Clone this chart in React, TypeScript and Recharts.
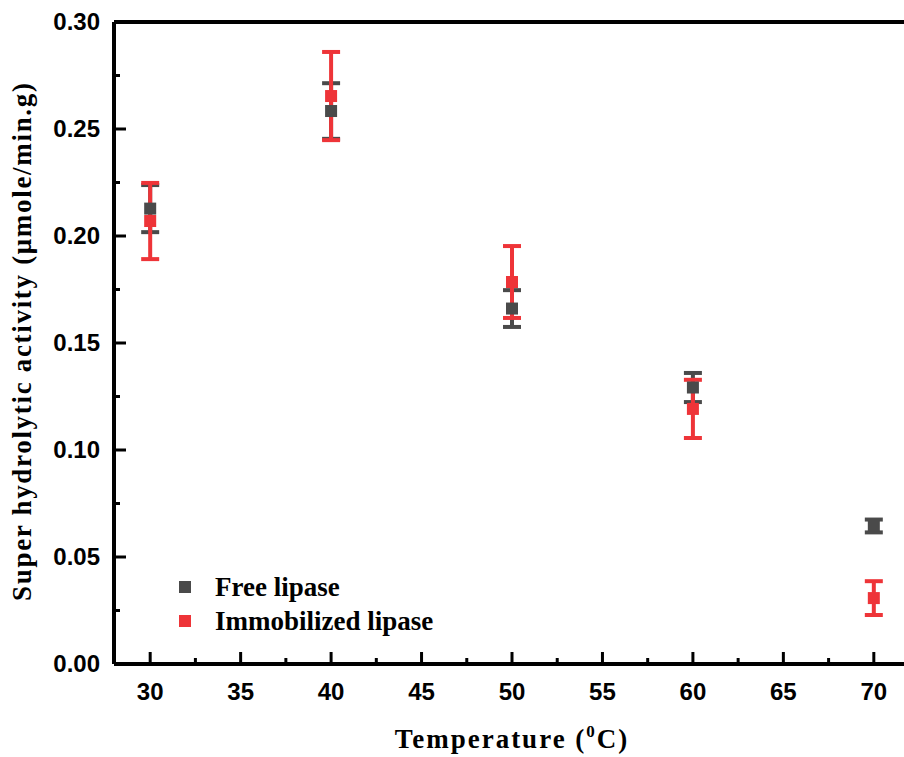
import { ScatterChart, Scatter, XAxis, YAxis, ErrorBar, ReferenceLine, Legend } from 'recharts';

// temperature (°C) of each assay
const temps = [30, 40, 50, 60, 70];

// mean activity and standard deviation, free enzyme
const freeActivity = [0.2128, 0.2584, 0.1661, 0.1292, 0.0645];
const freeError = [0.011, 0.013, 0.0086, 0.0068, 0.003];

// mean activity and standard deviation, immobilized enzyme
const immobilizedActivity = [0.207, 0.2654, 0.1785, 0.1192, 0.0308];
const immobilizedError = [0.0178, 0.0206, 0.0168, 0.0136, 0.0079];

const xTicks = [30, 32.5, 35, 37.5, 40, 42.5, 45, 47.5, 50, 52.5, 55, 57.5, 60, 62.5, 65, 67.5, 70];
const yTicks = [0, 0.025, 0.05, 0.075, 0.1, 0.125, 0.15, 0.175, 0.2, 0.225, 0.25, 0.275, 0.3];

const freeData = temps.map((t, i) => ({ t, v: freeActivity[i], e: freeError[i] }));
const immobilizedData = temps.map((t, i) => ({ t, v: immobilizedActivity[i], e: immobilizedError[i] }));

const GRAY = '#4a4a4a';
const RED = '#ee3438';
const PLOT_LEFT = 114;
const PLOT_BOTTOM = 664;
const SANS = '"Liberation Sans", Arial, sans-serif';
const SERIF = '"Liberation Serif", "Times New Roman", serif';

function XTick(props: any) {
  const { x, payload } = props;
  const major = Math.round(payload.value * 10) % 50 === 0;
  return (
    <g>
      <line x1={x} x2={x} y1={PLOT_BOTTOM} y2={PLOT_BOTTOM - (major ? 12 : 6)} stroke="#000" strokeWidth={3} />
      {major && (
        <text x={x} y={700} textAnchor="middle" fontFamily={SANS} fontWeight="bold" fontSize={24} fill="#000">
          {payload.value}
        </text>
      )}
    </g>
  );
}

function YTick(props: any) {
  const { y, payload } = props;
  const major = Math.round(payload.value * 1000) % 50 === 0;
  return (
    <g>
      <line x1={PLOT_LEFT} x2={PLOT_LEFT + (major ? 12 : 6)} y1={y} y2={y} stroke="#000" strokeWidth={3} />
      {major && (
        <text x={100} y={y + 8} textAnchor="end" fontFamily={SANS} fontWeight="bold" fontSize={24} fill="#000">
          {payload.value.toFixed(2)}
        </text>
      )}
    </g>
  );
}

function XTitle() {
  return (
    <text x={512} y={748} textAnchor="middle" fontFamily={SERIF} fontWeight="bold" fontSize={27} letterSpacing={2} fill="#000">
      Temperature (
      <tspan dy={-11} fontSize={17}>0</tspan>
      <tspan dy={11}>C)</tspan>
    </text>
  );
}

function YTitle() {
  return (
    <text
      x={22}
      y={342}
      transform="rotate(-90 22 342)"
      textAnchor="middle"
      dominantBaseline="central"
      fontFamily={SERIF}
      fontWeight="bold"
      fontSize={27}
      textLength={518}
      lengthAdjust="spacing"
      fill="#000"
    >
      Super hydrolytic activity (μmole/min.g)
    </text>
  );
}

function LegendBox(props: any) {
  const { payload = [] } = props;
  return (
    <div>
      {payload.map((p: any) => (
        <div key={p.value} style={{ display: 'flex', alignItems: 'center', height: 34 }}>
          <span style={{ display: 'inline-block', width: 12, height: 12, background: p.color, marginRight: 24 }} />
          <span style={{ fontFamily: SERIF, fontWeight: 'bold', fontSize: 27, color: '#000' }}>{p.value}</span>
        </div>
      ))}
    </div>
  );
}

const square = (fill: string) => (props: any) => (
  <rect x={props.cx - 6} y={props.cy - 6} width={12} height={12} fill={fill} />
);

export default function App() {
  return (
    <div style={{ position: 'absolute', left: 0, top: 0, width: 904, height: 757, overflow: 'hidden', background: '#fff' }}>
      <ScatterChart width={920} height={757} margin={{ top: 22, right: 10, bottom: 0, left: 0 }}>
        <XAxis
          dataKey="t"
          type="number"
          domain={[28, 72]}
          ticks={xTicks}
          interval={0}
          height={93}
          tickLine={false}
          axisLine={{ stroke: '#000', strokeWidth: 4 }}
          tick={<XTick />}
          label={<XTitle />}
        />
        <YAxis
          dataKey="v"
          type="number"
          domain={[0, 0.3]}
          ticks={yTicks}
          interval={0}
          width={114}
          tickLine={false}
          axisLine={{ stroke: '#000', strokeWidth: 4 }}
          tick={<YTick />}
          label={<YTitle />}
        />
        <ReferenceLine y={0.3} stroke="#000" strokeWidth={4} />
        <Legend
          layout="vertical"
          align="center"
          verticalAlign="middle"
          content={<LegendBox />}
          wrapperStyle={{ position: 'absolute', left: 179, top: 570, width: 'auto' }}
        />
        <Scatter name="Free lipase" data={freeData} fill={GRAY} shape={square(GRAY)} isAnimationActive={false}>
          <ErrorBar dataKey="e" direction="y" width={9} strokeWidth={4} stroke={GRAY} isAnimationActive={false} />
        </Scatter>
        <Scatter name="Immobilized lipase" data={immobilizedData} fill={RED} shape={square(RED)} isAnimationActive={false}>
          <ErrorBar dataKey="e" direction="y" width={9} strokeWidth={4} stroke={RED} isAnimationActive={false} />
        </Scatter>
      </ScatterChart>
    </div>
  );
}
